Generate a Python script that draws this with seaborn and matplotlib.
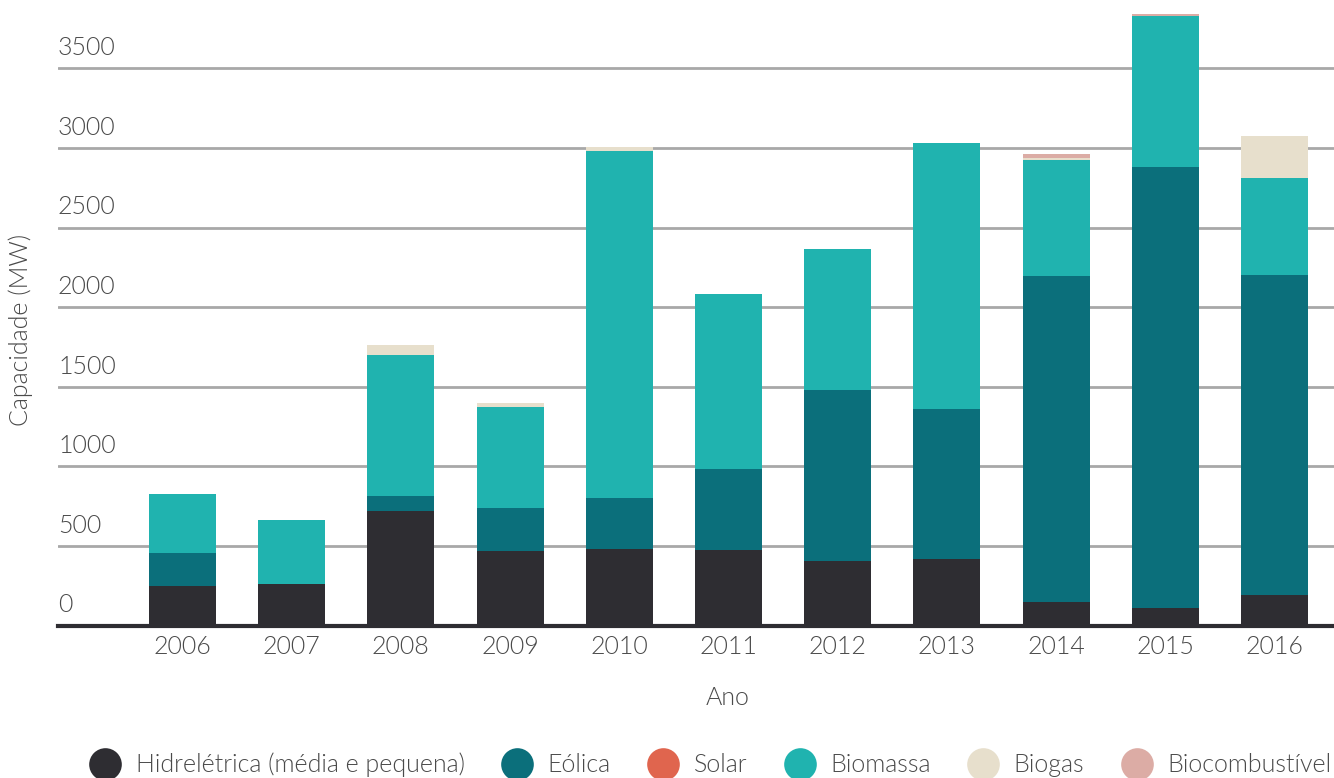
import matplotlib
matplotlib.use("Agg")
import matplotlib.pyplot as plt
import matplotlib.transforms as mtransforms
from matplotlib.lines import Line2D
import numpy as np
import seaborn as sns

# ---- data ----
anos = ['2006', '2007', '2008', '2009', '2010', '2011', '2012', '2013', '2014', '2015', '2016']
hidreletrica = [248, 261, 720, 468, 481, 474, 405, 418, 148, 110, 192]
eolica = [208, 0, 94, 270, 320, 509, 1075, 942, 2045, 2771, 2010]
solar = [0, 0, 0, 0, 0, 0, 0, 0, 5, 0, 0]
biomassa = [370, 402, 886, 635, 2181, 1100, 885, 1672, 727, 949, 610]
biogas = [0, 0, 63, 25, 24, 0, 0, 0, 13, 0, 264]
biocombustivel = [0, 0, 0, 0, 0, 0, 0, 0, 25, 13, 0]

series_names = ['Hidrelétrica (média e pequena)', 'Eólica', 'Solar', 'Biomassa', 'Biogas', 'Biocombustível']
series_values = [hidreletrica, eolica, solar, biomassa, biogas, biocombustivel]
colors = ['#2e2d32', '#0b6f7b', '#e0654e', '#20b3af', '#e7dfcc', '#dcaca5']
y_ticks = [0, 500, 1000, 1500, 2000, 2500, 3000, 3500]

# ---- style ----
sns.set_style('white')
plt.rcParams['font.family'] = ['Lato', 'DejaVu Sans']
plt.rcParams['font.weight'] = 300
text_color = '#4a4a4a'
fs = 18
W = 300

fig = plt.figure(figsize=(13.34, 7.78), dpi=100)
ax = fig.add_axes([58 / 1334, (778 - 625.5) / 778, 1 - 58 / 1334, 625.5 / 778])

cum = np.cumsum(np.array(series_values, dtype=float), axis=0)
for i in range(len(series_names) - 1, -1, -1):
    sns.barplot(x=anos, y=cum[i], order=anos, color=colors[i], saturation=1,
                width=0.614, errorbar=None, linewidth=0, ax=ax)

ax.set_xlim(-1.14, 10.545)
ax.set_ylim(0, 3930)

ax.set_yticks(y_ticks)
ax.set_yticklabels([])
ax.tick_params(axis='y', length=0)
ax.set_axisbelow(True)
ax.yaxis.grid(True, color='#a8a8a8', linewidth=2)
ax.xaxis.grid(False)
for s in ['top', 'right', 'left']:
    ax.spines[s].set_visible(False)
ax.spines['bottom'].set_color('#2e2d32')
ax.spines['bottom'].set_linewidth(3)

trans = mtransforms.blended_transform_factory(ax.transAxes, ax.transData)
for v in y_ticks:
    ax.annotate(str(v), xy=(0, v), xycoords=trans, xytext=(0, 9.5), textcoords='offset points',
                ha='left', va='baseline', fontsize=fs, color=text_color, fontweight=W)

ax.tick_params(axis='x', length=0, pad=7, labelsize=fs, labelcolor=text_color)
for lbl in ax.get_xticklabels():
    lbl.set_fontweight(W)

ax.set_xlabel('Ano', fontsize=fs, color=text_color, fontweight=W)
ax.xaxis.set_label_coords((728 - 58) / 1276, (625.5 - 686) / 625.5)
ax.set_ylabel('Capacidade (MW)', fontsize=fs, color=text_color, fontweight=W)
ax.yaxis.set_label_coords((33 - 58) / 1276, (625.5 - 330) / 625.5)

handles = [Line2D([], [], marker='o', linestyle='', markersize=23.5, color=c, markeredgewidth=0)
           for c in colors]
leg = fig.legend(handles, series_names, loc='center', bbox_to_anchor=(710 / 1334, (778 - 765) / 778),
                 ncol=6, frameon=False, handlelength=1.32, handletextpad=0.56, columnspacing=1.44,
                 fontsize=fs, borderaxespad=0)
for t in leg.get_texts():
    t.set_color(text_color)
    t.set_fontweight(W)

fig.savefig('out.png', dpi=100)
